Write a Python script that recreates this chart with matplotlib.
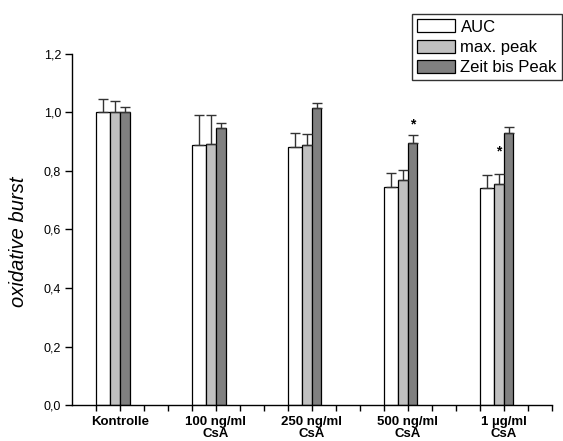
#!/usr/bin/env python3
"""Oxidative burst under CsA, grouped bars with upper error bars."""
import numpy as np
import matplotlib
matplotlib.use('Agg')
import matplotlib.pyplot as plt
from matplotlib.ticker import MultipleLocator, FixedLocator

plt.rcParams['font.family'] = ['Liberation Sans', 'DejaVu Sans']

groups = ['Kontrolle', '100 ng/ml\nCsA', '250 ng/ml\nCsA', '500 ng/ml\nCsA', '1 µg/ml\nCsA']
series = ['AUC', 'max. peak', 'Zeit bis Peak']

auc = [1.00, 0.890, 0.882, 0.746, 0.743]
auc_err = [0.047, 0.102, 0.048, 0.047, 0.045]
peak = [1.00, 0.892, 0.889, 0.769, 0.757]
peak_err = [0.038, 0.100, 0.037, 0.036, 0.034]
zeit = [1.00, 0.948, 1.017, 0.897, 0.931]
zeit_err = [0.019, 0.017, 0.017, 0.026, 0.019]

# significance markers: (group index, series index, y)
stars = [(3, 2, 0.958), (4, 1, 0.868)]

colors = ['white', '#c0c0c0', '#808080']
offsets = [-0.253, -0.10, 0.0]
widths = [0.153, 0.10, 0.10]

fig = plt.figure(figsize=(5.63, 4.41), dpi=100)
ax = fig.add_axes([0.128, 0.0816, 0.852, 0.796])

x = np.arange(len(groups))
handles = []
for vals, errs, c, off, w, name in zip([auc, peak, zeit], [auc_err, peak_err, zeit_err],
                                       colors, offsets, widths, series):
    b = ax.bar(x + off, vals, width=w, align='edge', color=c, edgecolor='black',
               linewidth=0.9, label=name, zorder=2)
    handles.append(b)
    ax.errorbar(x + off + w / 2, vals, yerr=[np.zeros(len(vals)), errs], fmt='none',
                ecolor='#333333', elinewidth=1.0, capsize=3.5, capthick=1.0, zorder=3)

for gi, si, yv in stars:
    ax.text(x[gi] + offsets[si] + widths[si] / 2, yv, '*', ha='center', va='center',
            fontsize=10, fontweight='bold')

ax.set_xlim(-0.5, 4.5)
ax.set_ylim(0, 1.2)
ax.spines['top'].set_visible(False)
ax.spines['right'].set_visible(False)
ax.spines['left'].set_linewidth(1.0)
ax.spines['bottom'].set_linewidth(1.0)

ax.yaxis.set_major_locator(MultipleLocator(0.2))
ax.set_yticklabels([f'{v:.1f}'.replace('.', ',') for v in ax.get_yticks()])
ax.tick_params(axis='y', direction='out', length=5, width=1.0, labelsize=9, pad=3)

ax.set_xticks(x)
ax.set_xticklabels(groups, fontweight='bold', fontsize=9.5, linespacing=1.0)
ax.xaxis.set_minor_locator(FixedLocator(np.arange(-0.25, 4.51, 0.25)))
ax.tick_params(axis='x', which='both', direction='out', length=4, width=1.0, pad=4)

ax.set_ylabel('oxidative burst', fontsize=14.5, style='italic')
ax.yaxis.set_label_coords(-0.092, 0.464)

fig.legend(handles=handles, labels=series, loc='upper right',
           bbox_to_anchor=(0.998, 0.968), frameon=True, fancybox=False,
           edgecolor='black', fontsize=12, handlelength=2.3, handleheight=0.85,
           handletextpad=0.3, labelspacing=0.3, borderpad=0.3, borderaxespad=0)

fig.savefig('out.png', dpi=100)
